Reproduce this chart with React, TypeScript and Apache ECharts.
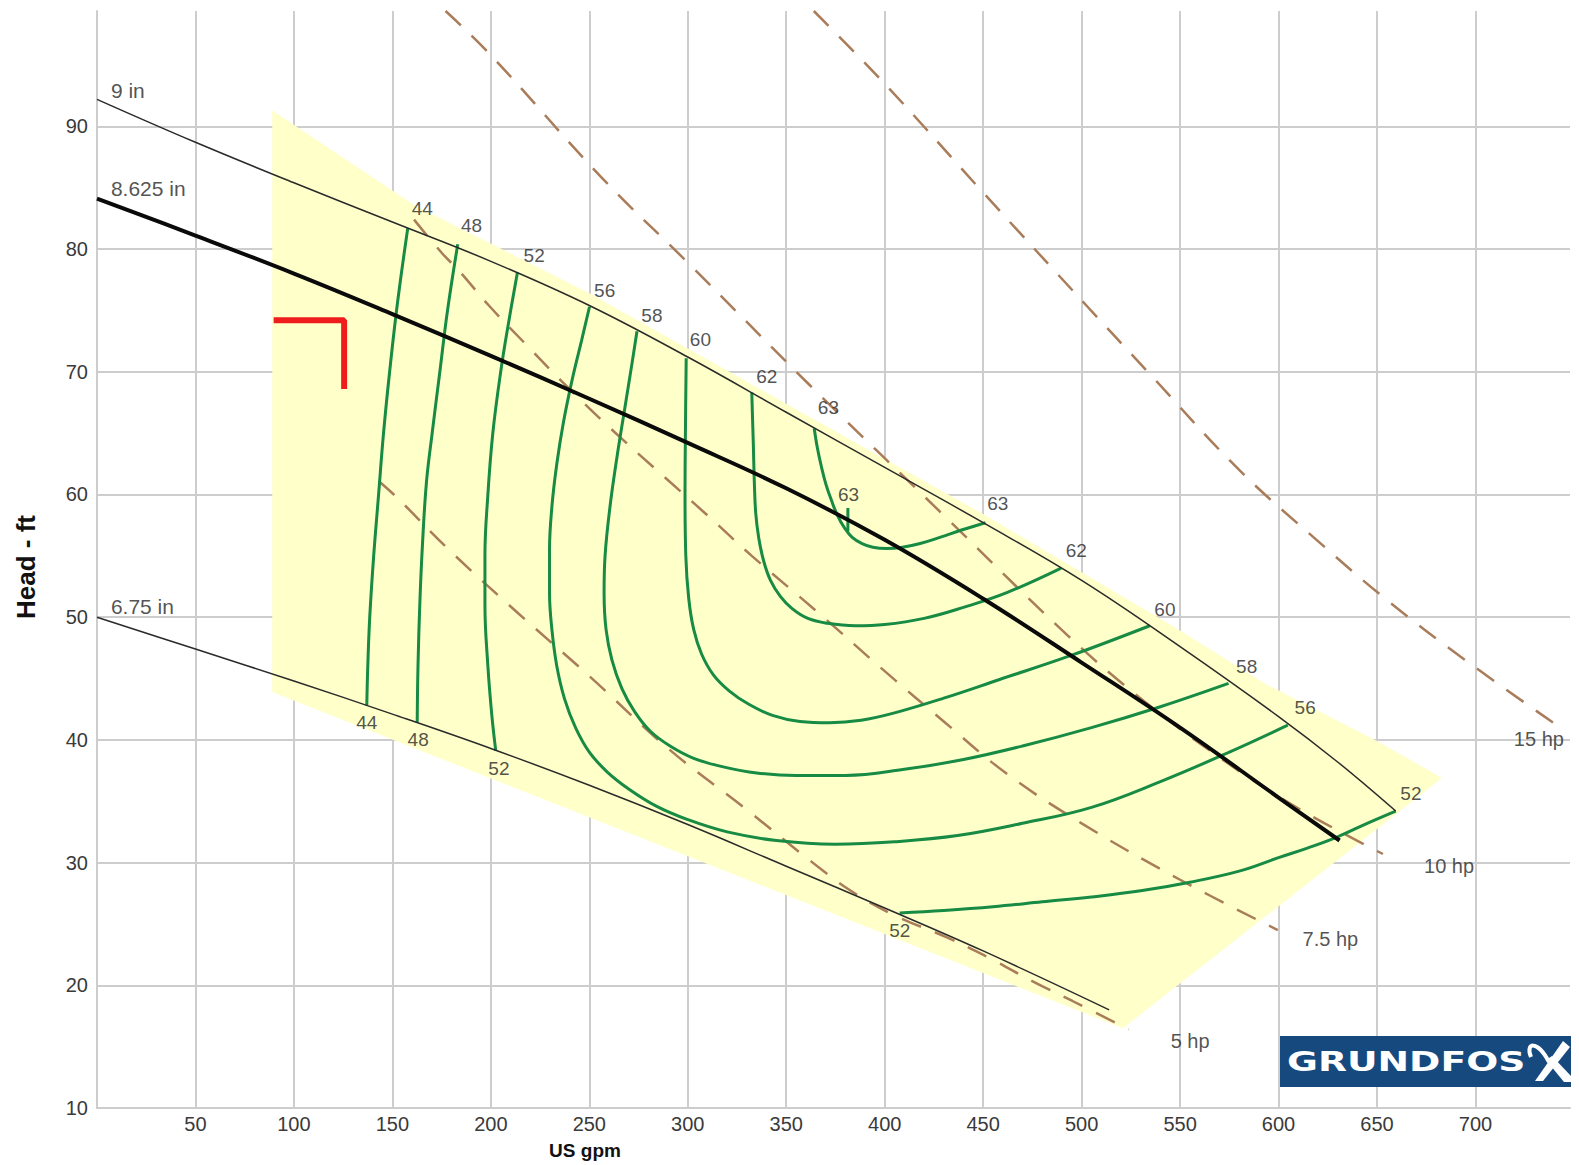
import { useEffect, useRef } from "react";
import * as echarts from "echarts";

// ---- impeller head curves (US gpm, ft) ----
const dia9 = [[0, 92.2], [50, 88.7], [100, 85.4], [150, 82.2], [200, 79.0], [250, 75.4], [300, 71.2], [350, 66.7], [400, 62.2], [450, 57.7], [500, 53.0], [550, 47.6], [600, 41.9], [630, 38.2], [659.5, 34.2]];
const dia8625 = [[0, 84.1], [50, 81.1], [100, 78.0], [150, 74.7], [200, 71.3], [250, 67.8], [300, 64.2], [350, 60.5], [400, 56.3], [450, 51.5], [500, 46.3], [550, 41.0], [600, 35.3], [631, 31.8]];
const dia675 = [[0, 50.0], [50, 47.4], [100, 44.8], [150, 42.1], [200, 39.3], [250, 36.3], [300, 33.1], [350, 29.7], [400, 26.3], [450, 22.8], [514, 18.0]];

// ---- efficiency iso-lines (%) ----
const eff44 = [[157.8, 81.7], [152.5, 75.5], [148.6, 70], [145.5, 65], [143, 60], [140.5, 55], [138.5, 50], [137.5, 46], [137, 42.8]];
const eff48 = [[183.2, 80.4], [178, 75], [174.1, 70], [170.2, 65], [167.3, 61], [165.3, 56], [164, 51.4], [163, 46], [162.6, 41.4]];
const eff52a = [[213.5, 78.1], [209, 74], [205, 70], [201, 65], [198.5, 60], [197, 55], [197, 51], [198.5, 46], [200.5, 42], [202.5, 39.1]];
const eff56 = [[250.1, 75.3], [246, 72.5], [241.5, 69.5], [237, 66], [233.5, 62.5], [231, 59], [229.8, 55.5], [229.8, 52], [231, 49], [233.5, 46], [237.5, 43.3], [243, 41], [250, 39], [259, 37.4], [270, 36], [284, 34.6], [300, 33.5], [320, 32.5], [345, 31.8], [375, 31.5], [405, 31.7], [437, 32.2], [470, 33.2], [505, 34.5], [540, 36.6], [575, 39], [604.7, 41.2]];
const eff58 = [[274.2, 73.3], [271.5, 70.5], [268, 67], [264, 63], [260.5, 59], [258, 55], [257.5, 52], [258.5, 49], [261.5, 46.5], [266.5, 44.2], [273, 42.3], [281, 40.7], [291, 39.5], [303, 38.5], [318, 37.8], [335, 37.3], [355, 37.1], [380, 37.1], [410, 37.6], [440, 38.4], [470, 39.5], [505, 41.0], [540, 42.7], [574.6, 44.6]];
const eff60 = [[299.2, 71.1], [298.8, 65], [298.6, 60], [299, 55], [300.5, 51.5], [303, 49], [307, 47], [313, 45.3], [321, 44], [331, 42.9], [343, 42], [357, 41.5], [372, 41.4], [388, 41.6], [405, 42.2], [430, 43.4], [458, 44.9], [495, 46.9], [534.6, 49.3]];
const eff62 = [[332.5, 68.3], [333.3, 64], [333.8, 61], [334.5, 58.5], [336, 56.5], [338.5, 54.6], [342, 53], [347, 51.7], [353, 50.7], [361, 49.9], [371, 49.5], [385, 49.3], [400, 49.4], [420, 49.9], [440, 50.8], [462, 52.0], [489.6, 54.0]];
const eff63 = [[364.2, 65.4], [365.8, 63.8], [367.8, 62.3], [370.2, 60.8], [373, 59.5], [376, 58.3], [379.5, 57.3], [383.5, 56.5], [388.5, 56.0], [394, 55.7], [401, 55.6], [409, 55.7], [418, 56.0], [428, 56.5], [439, 57.1], [451.2, 57.7]];
const eff63tick = [[381.3, 58.9], [381.3, 57.0]];
const eff52b = [[407.6, 25.9], [430, 26.1], [455, 26.4], [480, 26.8], [505, 27.2], [530, 27.7], [555, 28.4], [580, 29.3], [600, 30.4], [615, 31.2], [630, 32.1], [645, 33.2], [659.5, 34.2]];

// ---- power lines (hp) ----
const hp5 = [[143, 61.1], [152, 59.8], [180, 55.3], [214, 50.3], [250, 45.2], [290, 39.3], [330, 34.3], [362.6, 30.1], [382.8, 27.7], [405, 25.7], [431.6, 23.9], [453.5, 22.2], [475.4, 20.3], [495.6, 18.7], [523.9, 16.4]];
const hp75 = [[161, 82.4], [175, 79.7], [184, 78.2], [199, 75.4], [218, 72.2], [235.5, 69.3], [260, 65.5], [289, 61.3], [310, 58.3], [332.5, 55.0], [366, 50.4], [400, 45.6], [430, 41.5], [461.5, 37.3], [500, 33.2], [550, 28.6], [599.6, 24.5]];
const hp10 = [[177, 99.4], [200, 95.8], [257, 85.7], [300, 78.9], [362, 68.9], [430, 58.3], [493, 48.5], [529, 43.5], [568, 38.8], [608, 34.6], [653, 30.7]];
const hp15 = [[364, 99.4], [401, 93.3], [450, 84.6], [503, 75.3], [533, 70.1], [580, 62.0], [620, 56.2], [655, 51.4], [694, 46.6], [743, 41.0]];

// ---- operating range zone ----
const zone = [[89, 91.3], [161, 83.6], [250, 76.4], [350, 67.4], [450, 58.4], [546, 49.3], [593, 44.6], [649, 40.0], [683, 36.9], [521, 16.5], [89, 43.9]];

// ---- duty point marker ----
const redMark = [[89.7, 74.2], [125.5, 74.2], [125.5, 68.6]];

// ---- labels ----
const effLabelNames = ["44", "48", "52", "56", "58", "60", "62", "63", "63", "63", "62", "60", "58", "56", "52", "44", "48", "52", "52"];
const effLabelPos = [[165.2, 83.3], [190.2, 81.9], [222.0, 79.5], [257.8, 76.6], [281.8, 74.6], [306.4, 72.6], [340.1, 69.6], [371.4, 67.1], [381.6, 60.0], [457.4, 59.3], [497.3, 55.4], [542.3, 50.6], [583.8, 46.0], [613.5, 42.6], [667.2, 35.6], [137.0, 41.4], [163.1, 40.0], [204.1, 37.7], [407.7, 24.5]];
const diaLabelNames = ["9 in", "8.625 in", "6.75 in"];
const diaLabelPos = [[6.8, 92.9], [6.8, 84.9], [6.8, 50.9]];
const hpLabelNames = ["15 hp", "10 hp", "7.5 hp", "5 hp"];
const hpLabelPos = [[732.2, 40.1], [686.6, 29.7], [626.3, 23.8], [555.1, 15.5]];

const FONT = '"Liberation Sans", Arial, sans-serif';
const GREEN = "#178a43";
const DASH = "#a97c5a";
const GRID = "#cdcdcd";
const TXT = "#262626";

function line(data: number[][], color: string, width: number, z: number, dashed = false, smooth: number = 0.4) {
  return {
    type: "line",
    data,
    symbol: "none",
    showSymbol: false,
    smooth,
    silent: true,
    z,
    lineStyle: { color, width, type: dashed ? [21, 15] : "solid", cap: "butt" },
  };
}

function labels(names: string[], pos: number[][], size: number, position: string) {
  return {
    type: "scatter",
    symbolSize: 1,
    silent: true,
    z: 20,
    itemStyle: { color: "rgba(0,0,0,0)" },
    data: names.map((n, i) => ({ name: n, value: pos[i] })),
    label: {
      show: true,
      formatter: "{b}",
      position,
      distance: 0,
      fontSize: size,
      fontFamily: FONT,
      color: TXT,
    },
  };
}

export default function App() {
  const ref = useRef<HTMLDivElement>(null);
  useEffect(() => {
    if (!ref.current) return;
    const chart = echarts.init(ref.current, undefined, { renderer: "svg" });
    const option: any = {
      animation: false,
      backgroundColor: "#ffffff",
      grid: { left: 97, right: 9, top: 11, bottom: 57, containLabel: false },
      xAxis: {
        type: "value",
        min: 0,
        max: 748,
        interval: 50,
        axisLine: { show: true, lineStyle: { color: GRID, width: 2 } },
        axisTick: { show: false },
        axisLabel: {
          fontSize: 20,
          fontFamily: FONT,
          color: "#3a3a3a",
          margin: 6,
          formatter: (v: number) => (v !== 0 && v % 50 === 0 ? String(v) : ""),
        },
        splitLine: { show: true, showMaxLine: false, lineStyle: { color: GRID, width: 2 } },
      },
      yAxis: {
        type: "value",
        min: 10,
        max: 99.4,
        interval: 10,
        axisLine: { show: true, lineStyle: { color: GRID, width: 2 } },
        axisTick: { show: false },
        axisLabel: {
          fontSize: 20,
          fontFamily: FONT,
          color: "#3a3a3a",
          margin: 9,
          formatter: (v: number) => (v % 10 === 0 ? String(v) : ""),
        },
        splitLine: { show: true, showMaxLine: false, lineStyle: { color: GRID, width: 2 } },
      },
      series: [
        {
          type: "custom",
          coordinateSystem: "cartesian2d",
          silent: true,
          z: 1,
          data: [[0, 0]],
          renderItem: (_p: any, api: any) => ({
            type: "polygon",
            shape: { points: zone.map((p) => api.coord(p)) },
            style: { fill: "#ffffca" },
          }),
        },
        line(hp5, DASH, 2.5, 2, true),
        line(hp75, DASH, 2.5, 2, true),
        line(hp10, DASH, 2.5, 2, true),
        line(hp15, DASH, 2.5, 2, true),
        line(eff44, GREEN, 3, 3),
        line(eff48, GREEN, 3, 3),
        line(eff52a, GREEN, 3, 3),
        line(eff56, GREEN, 3, 3),
        line(eff58, GREEN, 3, 3),
        line(eff60, GREEN, 3, 3),
        line(eff62, GREEN, 3, 3),
        line(eff63, GREEN, 3, 3),
        line(eff63tick, GREEN, 3, 3, false, 0),
        line(eff52b, GREEN, 3, 3),
        line(dia9, "#2a2a2a", 1.5, 4),
        line(dia675, "#2a2a2a", 1.5, 4),
        line(dia8625, "#0a0a0a", 4, 5),
        line(redMark, "#ee1c1c", 6, 6, false, 0),
        labels(effLabelNames, effLabelPos, 19, "inside"),
        labels(diaLabelNames, diaLabelPos, 21, "right"),
        labels(hpLabelNames, hpLabelPos, 20, "inside"),
      ],
      graphic: [
        {
          type: "text",
          x: 26,
          y: 567,
          rotation: Math.PI / 2,
          style: { text: "Head - ft", font: `bold 26px ${FONT}`, fill: "#111", align: "center", verticalAlign: "middle" },
        },
        {
          type: "text",
          x: 585,
          y: 1150,
          style: { text: "US gpm", font: `bold 19px ${FONT}`, fill: "#111", align: "center", verticalAlign: "middle" },
        },
        { type: "rect", shape: { x: 1280, y: 1036, width: 291, height: 51 }, style: { fill: "#164a7e" }, z: 50 },
        {
          type: "text",
          x: 1287,
          y: 1062,
          scaleX: 1.45,
          z: 51,
          style: { text: "GRUNDFOS", font: 'bold 26px "DejaVu Sans", sans-serif', fill: "#ffffff", align: "left", verticalAlign: "middle" },
        },
        { type: "polygon", z: 51, shape: { points: [[1563, 1041], [1570, 1047], [1543, 1081], [1535, 1081]] }, style: { fill: "#ffffff" } },
        { type: "polygon", z: 51, shape: { points: [[1546, 1060], [1552, 1056], [1571, 1076], [1571, 1082], [1564, 1082]] }, style: { fill: "#ffffff" } },
        {
          type: "bezierCurve",
          z: 51,
          shape: { x1: 1531, y1: 1057, cpx1: 1525, cpy1: 1043, cpx2: 1537, cpy2: 1039, x2: 1549, y2: 1062 },
          style: { stroke: "#ffffff", lineWidth: 4, fill: "none" },
        },
      ],
    };
    chart.setOption(option);
    return () => chart.dispose();
  }, []);
  return (
    <div
      ref={ref}
      style={{ position: "fixed", left: 0, top: 0, width: 1579, height: 1165, background: "#fff" }}
    />
  );
}
